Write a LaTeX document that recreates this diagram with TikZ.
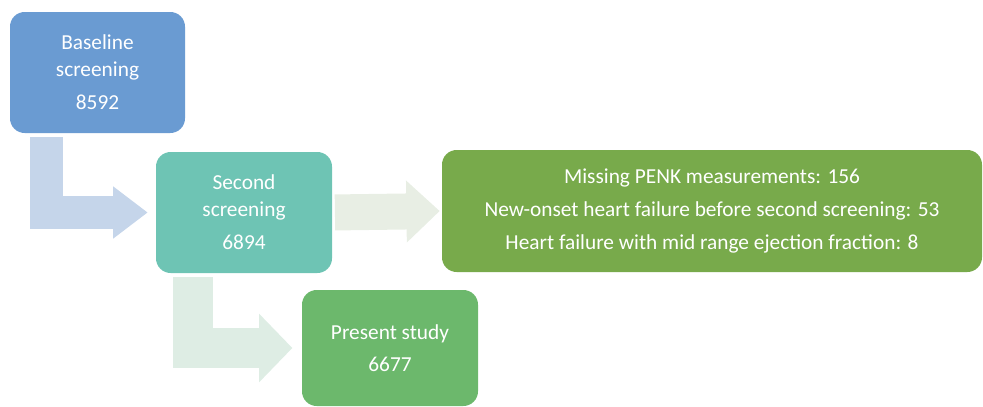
\documentclass[tikz,border=0pt]{standalone}
\usepackage{fontspec}
\setmainfont{Carlito}
\usepackage{tikz}
\usetikzlibrary{arrows.meta,calc}

\definecolor{baseblue}{RGB}{106,155,210}
\definecolor{secteal}{RGB}{110,196,180}
\definecolor{exclgreen}{RGB}{120,170,75}
\definecolor{presgreen}{RGB}{108,184,108}
\definecolor{arrblue}{RGB}{197,213,234}
\definecolor{arrgray}{RGB}{232,238,228}
\definecolor{arrmint}{RGB}{222,237,228}

\begin{document}
\begin{tikzpicture}[x=0.75pt,y=-0.75pt,
    box/.style={rounded corners=11pt, text=white, align=center, inner sep=0pt,
                font=\fontsize{16}{20}\selectfont},
    bentarrow/.style={line join=miter}]

\useasboundingbox (0,0) rectangle (983,407);

\node (base) [box, fill=baseblue, minimum width=131.25pt, minimum height=90.75pt]
    at (97.5,72.5) {Baseline\\screening\\[5pt]8592};
\node (second) [box, fill=secteal, minimum width=132pt, minimum height=90.75pt]
    at (244,212.5) {Second\\screening\\[5pt]6894};
\node (excl) [box, fill=exclgreen, minimum width=405pt, minimum height=91.5pt,
    font=\fontsize{16}{25}\selectfont]
    at (712,211) {Missing PENK measurements: 156\\New-onset heart failure before second screening: 53\\Heart failure with mid range ejection fraction: 8};
\node (present) [box, fill=presgreen, minimum width=132pt, minimum height=87pt,
    font=\fontsize{16}{24}\selectfont]
    at (390,348) {Present study\\6677};

\draw[bentarrow, arrblue, line width=24.75pt, shorten >=6pt,
      -{Triangle[width=37.5pt,length=26pt]}]
    ($(base.south west)+(36.5,4)$) |- (second.west);
\draw[bentarrow, arrgray, line width=27pt, shorten <=2pt, shorten >=1.5pt,
      -{Triangle[width=45pt,length=25pt]}]
    (second.east) -- (excl.west);
\draw[bentarrow, arrmint, line width=30pt, shorten >=7pt,
      -{Triangle[width=50pt,length=25pt]}]
    ($(second.south west)+(37.5,4)$) |- (present.west);

\end{tikzpicture}
\end{document}
